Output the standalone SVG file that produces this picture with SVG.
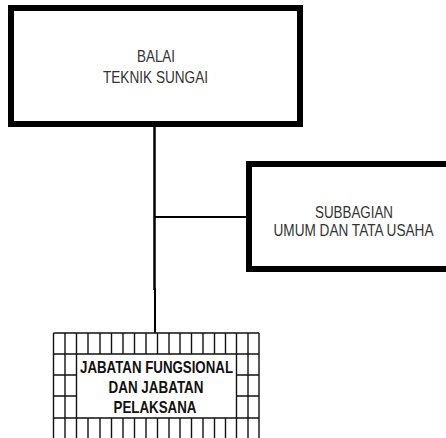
<svg xmlns="http://www.w3.org/2000/svg" width="446" height="438" viewBox="0 0 446 438">
<style>
.box{fill:#fff;stroke:#000;stroke-width:6}
.conn{fill:none;stroke:#000}
.grid{fill:none;stroke:#111;stroke-width:1.4}
.t{font-family:"Liberation Sans",Arial,sans-serif;font-size:16px;fill:#333;text-anchor:middle}
.tb{font-family:"Liberation Sans",Arial,sans-serif;font-size:17px;font-weight:bold;fill:#111;text-anchor:middle}
</style>
<rect width="446" height="438" fill="#fff"/>
<g id="connectors">
<path class="conn" stroke-width="2.5" d="M154.5,126 V290"/>
<path class="conn" stroke-width="2" d="M155,288 V333"/>
<path class="conn" stroke-width="2" d="M154.5,217 H247"/>
</g>
<g id="balai">
<rect class="box" x="11" y="8" width="289" height="116"/>
<text class="t" x="156" y="62" textLength="38" lengthAdjust="spacingAndGlyphs">BALAI</text>
<text class="t" x="155.5" y="83" textLength="105" lengthAdjust="spacingAndGlyphs">TEKNIK SUNGAI</text>
</g>
<g id="subbagian">
<path class="box" d="M446,164 H249 V269 H446"/>
<text class="t" x="354" y="218" textLength="78" lengthAdjust="spacingAndGlyphs">SUBBAGIAN</text>
<text class="t" x="353.5" y="236" textLength="160" lengthAdjust="spacingAndGlyphs">UMUM DAN TATA USAHA</text>
</g>
<g id="jabatan">
<path class="grid" d="M53.5,333 H259 M53.5,354 H259 M53.5,375 H76.5 M236.5,375 H259 M53.5,396 H76.5 M236.5,396 H259 M53.5,418 H259
M53.5,333 V440 M65,333 V440 M76.5,333 V440 M236.5,333 V440 M248,333 V440 M259,333 V440
M88,333 V354 M100,333 V354 M111.5,333 V354 M123,333 V354 M134.5,333 V354 M146,333 V354 M157.5,333 V354 M169,333 V354 M180,333 V354 M191.5,333 V354 M203,333 V354 M214.5,333 V354 M225.5,333 V354
M88,418 V440 M100,418 V440 M111.5,418 V440 M123,418 V440 M134.5,418 V440 M146,418 V440 M157.5,418 V440 M169,418 V440 M180,418 V440 M191.5,418 V440 M203,418 V440 M214.5,418 V440 M225.5,418 V440"/>
<text class="tb" x="156.5" y="373" textLength="153" lengthAdjust="spacingAndGlyphs">JABATAN FUNGSIONAL</text>
<text class="tb" x="156" y="393" textLength="95" lengthAdjust="spacingAndGlyphs">DAN JABATAN</text>
<text class="tb" x="155" y="413" textLength="83" lengthAdjust="spacingAndGlyphs">PELAKSANA</text>
</g>
</svg>
